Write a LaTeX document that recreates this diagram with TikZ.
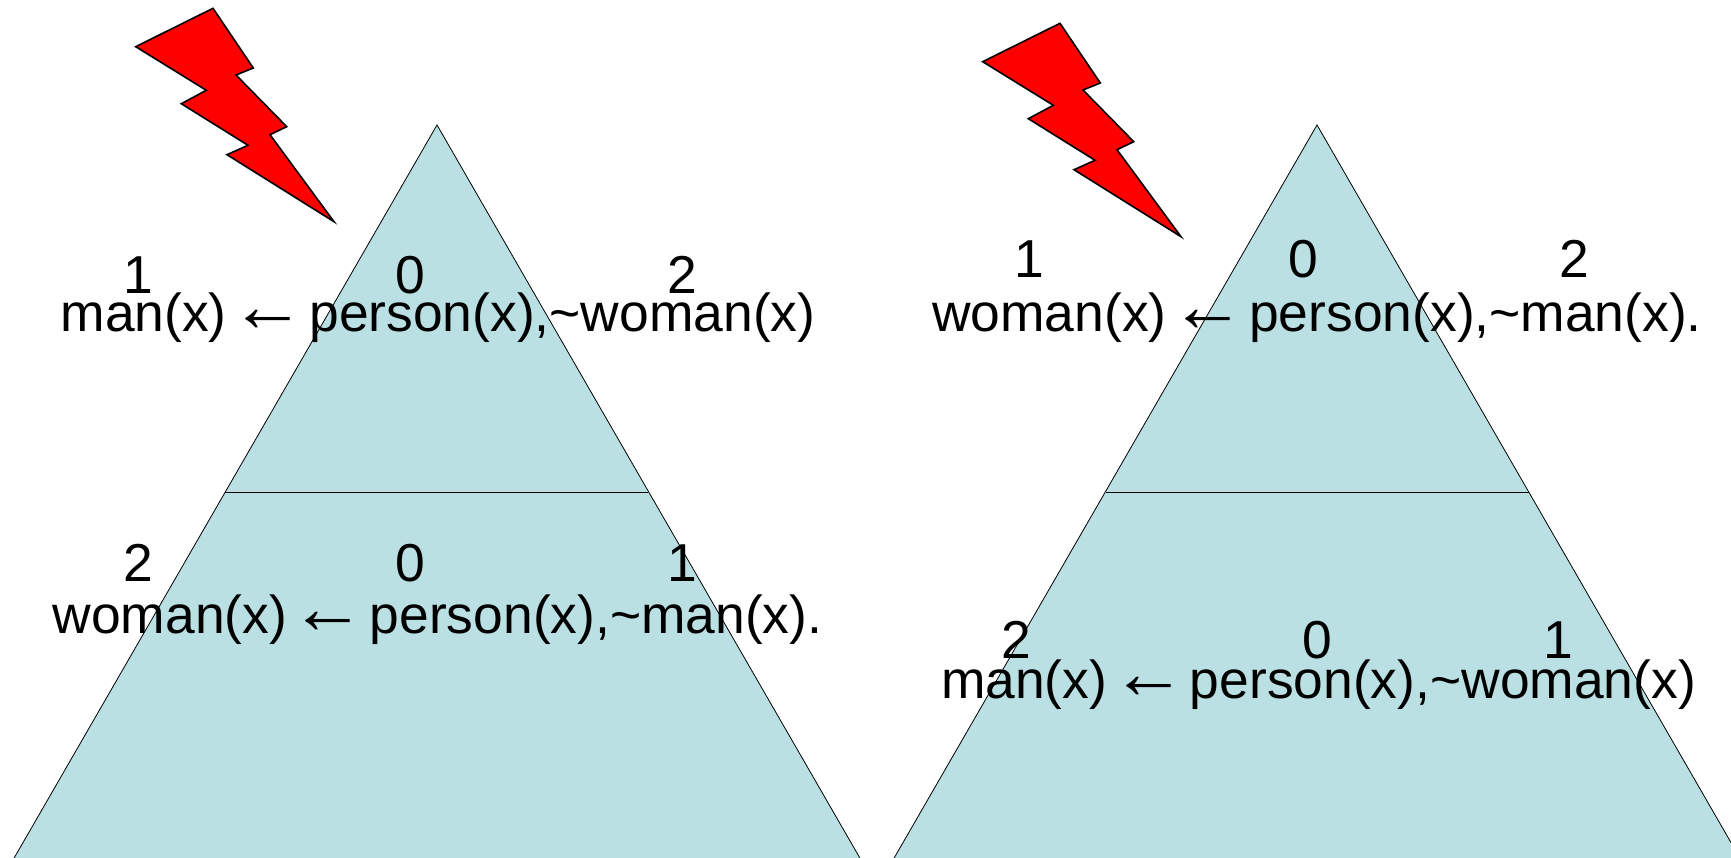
\documentclass[tikz,border=0pt]{standalone}
\usepackage{fontspec}
\setmainfont{Liberation Sans}
\newfontfamily\arrowfont{Liberation Serif}
\definecolor{pyr}{HTML}{BBE0E3}
\newcommand{\larr}{\kern-11pt{\arrowfont\fontsize{75}{75}\selectfont\symbol{"2190}}\kern-11pt}
\tikzset{
  lbl/.style={anchor=base,inner sep=0pt,outer sep=0pt,font=\fontsize{53.4}{60}\selectfont},
  pyramid/.style={draw=black,line width=0.8pt,fill=pyr},
  divider/.style={draw=black,line width=0.8pt},
  bolt/.style={draw=black,line width=1.6pt,fill=red,line join=miter}
}
\newcommand{\lightning}[2]{%
\draw[bolt,shift={(#1,#2)}] (135.7,46.7)--(213,8.3)--(253.3,68)--(236,75)--(286.7,126.7)--(270,134.7)--(334,221.7)--(227,154.7)--(248,145.3)--(181.3,103.7)--(206.3,90.3)--cycle;}
\begin{document}
\begin{tikzpicture}[x=1pt,y=-1pt]
\useasboundingbox (0,0) rectangle (1731,858);
\clip (0,0) rectangle (1731,858);
% left pyramid
\draw[pyramid] (437,125)--(872,879)--(2,879)--cycle;
\draw[divider] (225,492.5)--(648,492.5);
% right pyramid
\draw[pyramid] (1317,125)--(1752,879)--(882,879)--cycle;
\draw[divider] (1106,492.5)--(1529,492.5);
\lightning{0}{0}
\lightning{847}{15}
% left top
\node[lbl] (a1) at (138,294) {1};
\node[lbl] (a0) at (410,294) {0};
\node[lbl] (a2) at (682,294) {2};
\node[lbl] (at) at (438,331) {man(x) \larr{} person(x),\textasciitilde woman(x)};
% left bottom
\node[lbl] (b2) at (138,581) {2};
\node[lbl] (b0) at (410,581) {0};
\node[lbl] (b1) at (682,581) {1};
\node[lbl] (bt) at (437.5,633) {woman(x) \larr{} person(x),\textasciitilde man(x).};
% right top
\node[lbl] (c1) at (1029,278) {1};
\node[lbl] (c0) at (1303,278) {0};
\node[lbl] (c2) at (1574,278) {2};
\node[lbl] (ct) at (1317,331) {woman(x) \larr{} person(x),\textasciitilde man(x).};
% right bottom
\node[lbl] (d2) at (1016,658) {2};
\node[lbl] (d0) at (1317,658) {0};
\node[lbl] (d1) at (1558,658) {1};
\node[lbl] (dt) at (1318.5,698) {man(x) \larr{} person(x),\textasciitilde woman(x)};
\end{tikzpicture}
\end{document}
